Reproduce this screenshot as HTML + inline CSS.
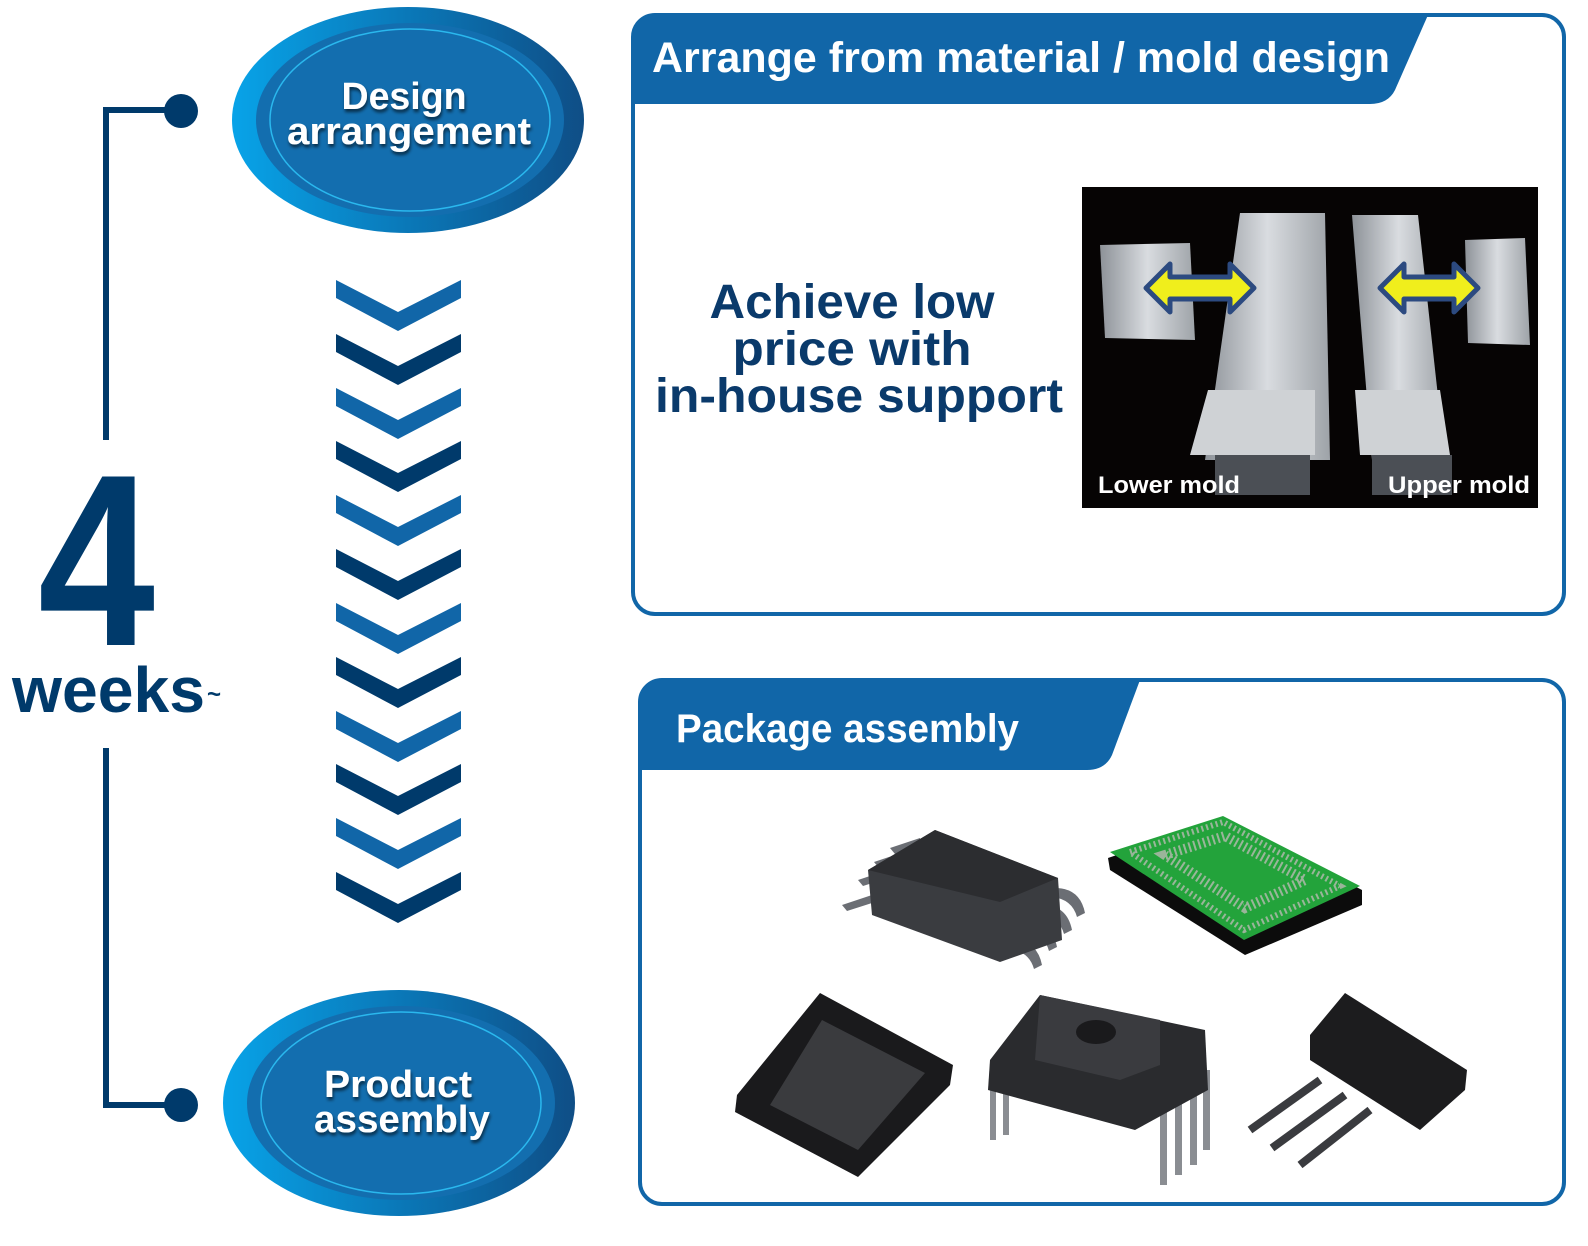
<!DOCTYPE html>
<html><head><meta charset="utf-8"><style>
html,body{margin:0;padding:0;background:#fff}
svg{display:block}
text{font-family:"Liberation Sans",sans-serif;font-weight:bold}
</style></head><body>
<svg width="1588" height="1246" viewBox="0 0 1588 1246" xmlns="http://www.w3.org/2000/svg">
<defs>
<linearGradient id="ring" x1="0" x2="1" y1="0" y2="0">
<stop offset="0" stop-color="#08a3e8"/><stop offset="0.5" stop-color="#0a78b8"/><stop offset="1" stop-color="#0f4e86"/>
</linearGradient>
<filter id="sh" x="-10%" y="-10%" width="120%" height="130%"><feDropShadow dx="1" dy="3" stdDeviation="1.5" flood-color="#000" flood-opacity="0.6"/></filter>
<linearGradient id="metal" x1="0" x2="1"><stop offset="0" stop-color="#8d9298"/><stop offset="0.5" stop-color="#d9dce0"/><stop offset="1" stop-color="#9ea3a8"/></linearGradient>
</defs>

<!-- bracket -->
<path d="M180 110 H106 V440 M106 748 V1105 H180" fill="none" stroke="#003a6b" stroke-width="6"/>
<circle cx="181" cy="111" r="17" fill="#003a6b"/>
<circle cx="181" cy="1105" r="17" fill="#003a6b"/>
<text x="38" y="645" font-size="245" fill="#003a6b" textLength="117" lengthAdjust="spacingAndGlyphs">4</text>
<text x="12" y="712" font-size="64" fill="#003a6b" textLength="193" lengthAdjust="spacingAndGlyphs">weeks</text>
<text x="207" y="702" font-size="24" fill="#003a6b">~</text>

<!-- ellipses -->
<ellipse cx="408" cy="120" rx="176" ry="113" fill="url(#ring)"/>
<ellipse cx="410" cy="120" rx="154" ry="97" fill="#136eaf"/>
<ellipse cx="410" cy="120" rx="140" ry="91" fill="none" stroke="#2ab8ee" stroke-width="1.5"/>
<g filter="url(#sh)" fill="#fff">
<text x="404" y="109" font-size="38" text-anchor="middle" textLength="125" lengthAdjust="spacingAndGlyphs">Design</text>
<text x="409" y="144" font-size="38" text-anchor="middle" textLength="244" lengthAdjust="spacingAndGlyphs">arrangement</text>
</g>
<ellipse cx="399" cy="1103" rx="176" ry="113" fill="url(#ring)"/>
<ellipse cx="401" cy="1103" rx="154" ry="97" fill="#136eaf"/>
<ellipse cx="401" cy="1103" rx="140" ry="91" fill="none" stroke="#2ab8ee" stroke-width="1.5"/>
<g filter="url(#sh)" fill="#fff">
<text x="398" y="1097" font-size="38" text-anchor="middle" textLength="148" lengthAdjust="spacingAndGlyphs">Product</text>
<text x="402" y="1132" font-size="38" text-anchor="middle" textLength="176" lengthAdjust="spacingAndGlyphs">assembly</text>
</g>

<!-- chevrons -->
<g>
<path id="cv" d="M336 280 L398 312 L461 280 L461 298 L398 331 L336 298 Z" fill="#1166a8"/>
<path d="M336 334 L398 366 L461 334 L461 352 L398 385 L336 352 Z" fill="#003a6b"/>
<path d="M336 388 L398 420 L461 388 L461 406 L398 439 L336 406 Z" fill="#1166a8"/>
<path d="M336 441 L398 473 L461 441 L461 459 L398 492 L336 459 Z" fill="#003a6b"/>
<path d="M336 495 L398 527 L461 495 L461 513 L398 546 L336 513 Z" fill="#1166a8"/>
<path d="M336 549 L398 581 L461 549 L461 567 L398 600 L336 567 Z" fill="#003a6b"/>
<path d="M336 603 L398 635 L461 603 L461 621 L398 654 L336 621 Z" fill="#1166a8"/>
<path d="M336 657 L398 689 L461 657 L461 675 L398 708 L336 675 Z" fill="#003a6b"/>
<path d="M336 711 L398 743 L461 711 L461 729 L398 762 L336 729 Z" fill="#1166a8"/>
<path d="M336 764 L398 796 L461 764 L461 782 L398 815 L336 782 Z" fill="#003a6b"/>
<path d="M336 818 L398 850 L461 818 L461 836 L398 869 L336 836 Z" fill="#1166a8"/>
<path d="M336 872 L398 904 L461 872 L461 890 L398 923 L336 890 Z" fill="#003a6b"/>
</g>

<!-- box 1 -->
<rect x="633" y="15" width="931" height="599" rx="22" fill="#fff" stroke="#1166a8" stroke-width="4"/>
<path d="M633 104 V37 Q633 15 655 15 H1428 L1395 90 Q1388 104 1370 104 Z" fill="#1166a8"/>
<text x="652" y="72" font-size="43" fill="#fff" textLength="738" lengthAdjust="spacingAndGlyphs">Arrange from material / mold design</text>
<g fill="#0a3a6b" font-size="48" text-anchor="middle">
<text x="852" y="318" textLength="285" lengthAdjust="spacingAndGlyphs">Achieve low</text>
<text x="852" y="365" textLength="239" lengthAdjust="spacingAndGlyphs">price with</text>
<text x="859" y="412" textLength="408" lengthAdjust="spacingAndGlyphs">in-house support</text>
</g>
<!-- photo -->
<rect x="1082" y="187" width="456" height="321" fill="#060404"/>
<path d="M1100 245 L1190 243 L1195 340 L1105 338 Z" fill="url(#metal)"/>
<path d="M1465 240 L1525 238 L1530 345 L1468 343 Z" fill="url(#metal)"/>
<path d="M1240 213 L1325 213 L1330 460 L1205 460 Z" fill="url(#metal)"/>
<path d="M1208 390 L1315 390 L1315 455 L1190 455 Z" fill="#cfd2d5"/>
<path d="M1352 215 L1418 215 L1445 460 L1372 460 Z" fill="url(#metal)"/>
<path d="M1355 390 L1440 390 L1450 455 L1360 455 Z" fill="#cfd2d5"/>
<rect x="1215" y="455" width="95" height="40" fill="#4b4f55"/>
<rect x="1372" y="455" width="80" height="40" fill="#4b4f55"/>
<path d="M1146 288 L1170 264 L1170 277 L1230 277 L1230 264 L1254 288 L1230 312 L1230 299 L1170 299 L1170 312 Z" fill="#f0ee1c" stroke="#2c4a80" stroke-width="5" stroke-linejoin="round"/>
<path d="M1380 288 L1404 264 L1404 277 L1454 277 L1454 264 L1478 288 L1454 312 L1454 299 L1404 299 L1404 312 Z" fill="#f0ee1c" stroke="#2c4a80" stroke-width="5" stroke-linejoin="round"/>
<text x="1098" y="493" font-size="24" fill="#fff" textLength="142" lengthAdjust="spacingAndGlyphs">Lower mold</text>
<text x="1388" y="493" font-size="24" fill="#fff" textLength="142" lengthAdjust="spacingAndGlyphs">Upper mold</text>

<!-- box 2 -->
<rect x="640" y="680" width="924" height="524" rx="22" fill="#fff" stroke="#1166a8" stroke-width="4"/>
<path d="M640 770 V702 Q640 680 662 680 H1140 L1112 755 Q1105 770 1087 770 Z" fill="#1166a8"/>
<text x="676" y="742" font-size="40" fill="#fff" textLength="343" lengthAdjust="spacingAndGlyphs">Package assembly</text>

<!-- SOP -->
<g fill="#6b6e74">
<path d="M842 905 l30 -10 l0 8 l-25 8 z"/><path d="M858 880 l30 -10 l0 8 l-25 8 z"/><path d="M874 862 l30 -10 l0 8 l-25 8 z"/><path d="M890 848 l30 -10 l0 8 l-25 8 z"/>
<path d="M1055 888 q25 0 30 25 l-8 4 q-5 -18 -25 -20z"/><path d="M1042 905 q25 0 30 25 l-8 4 q-5 -18 -25 -20z"/><path d="M1027 922 q25 0 30 25 l-8 4 q-5 -18 -25 -20z"/><path d="M1012 940 q25 0 30 25 l-8 4 q-5 -18 -25 -20z"/>
</g>
<path d="M935 830 L1058 878 L1062 940 L1000 962 L872 915 L868 870 Z" fill="#3a3c40"/>
<path d="M935 830 L1058 878 L1000 902 L868 870 Z" fill="#2c2d30"/>
<!-- BGA -->
<path d="M1108 858 L1225 818 L1362 890 L1362 905 L1245 955 L1110 870 Z" fill="#0c0c0c"/>
<path d="M1110 852 L1223 816 L1360 886 L1244 940 Z" fill="#23a33b"/>
<path d="M1130 852 L1223 822 L1340 886 L1244 930 Z" fill="none" stroke="#9ab59a" stroke-width="6" stroke-dasharray="2 3"/>
<path d="M1165 855 L1225 836 L1305 880 L1245 908 Z" fill="none" stroke="#9ab59a" stroke-width="10" stroke-dasharray="2 3"/>
<!-- QFN -->
<path d="M820 993 L953 1065 L950 1085 L858 1177 L735 1112 L737 1095 Z" fill="#1a1a1c"/>
<path d="M822 1020 L925 1073 L858 1150 L770 1105 Z" fill="#3a3b3e"/>
<!-- DIP sensor -->
<g fill="#8a8d92">
<rect x="990" y="1070" width="6" height="70"/><rect x="1003" y="1075" width="6" height="60"/>
<rect x="1160" y="1085" width="7" height="100"/><rect x="1175" y="1080" width="7" height="95"/><rect x="1190" y="1075" width="7" height="90"/><rect x="1203" y="1070" width="7" height="80"/>
</g>
<path d="M1040 995 L1205 1030 L1208 1090 L1135 1130 L988 1090 L990 1060 Z" fill="#2a2b2e"/>
<path d="M1040 995 L1160 1020 L1160 1065 L1120 1080 L1035 1060 Z" fill="#3a3b3f"/>
<ellipse cx="1096" cy="1032" rx="20" ry="12" fill="#1a1a1c"/>
<!-- TO -->
<g stroke="#3a3b3f" stroke-width="8">
<line x1="1320" y1="1080" x2="1250" y2="1130"/><line x1="1345" y1="1095" x2="1272" y2="1148"/><line x1="1370" y1="1110" x2="1300" y2="1165"/>
</g>
<path d="M1345 993 L1467 1070 L1465 1090 L1420 1130 L1310 1060 L1310 1035 Z" fill="#1c1c1e"/>
</svg>
</body></html>
